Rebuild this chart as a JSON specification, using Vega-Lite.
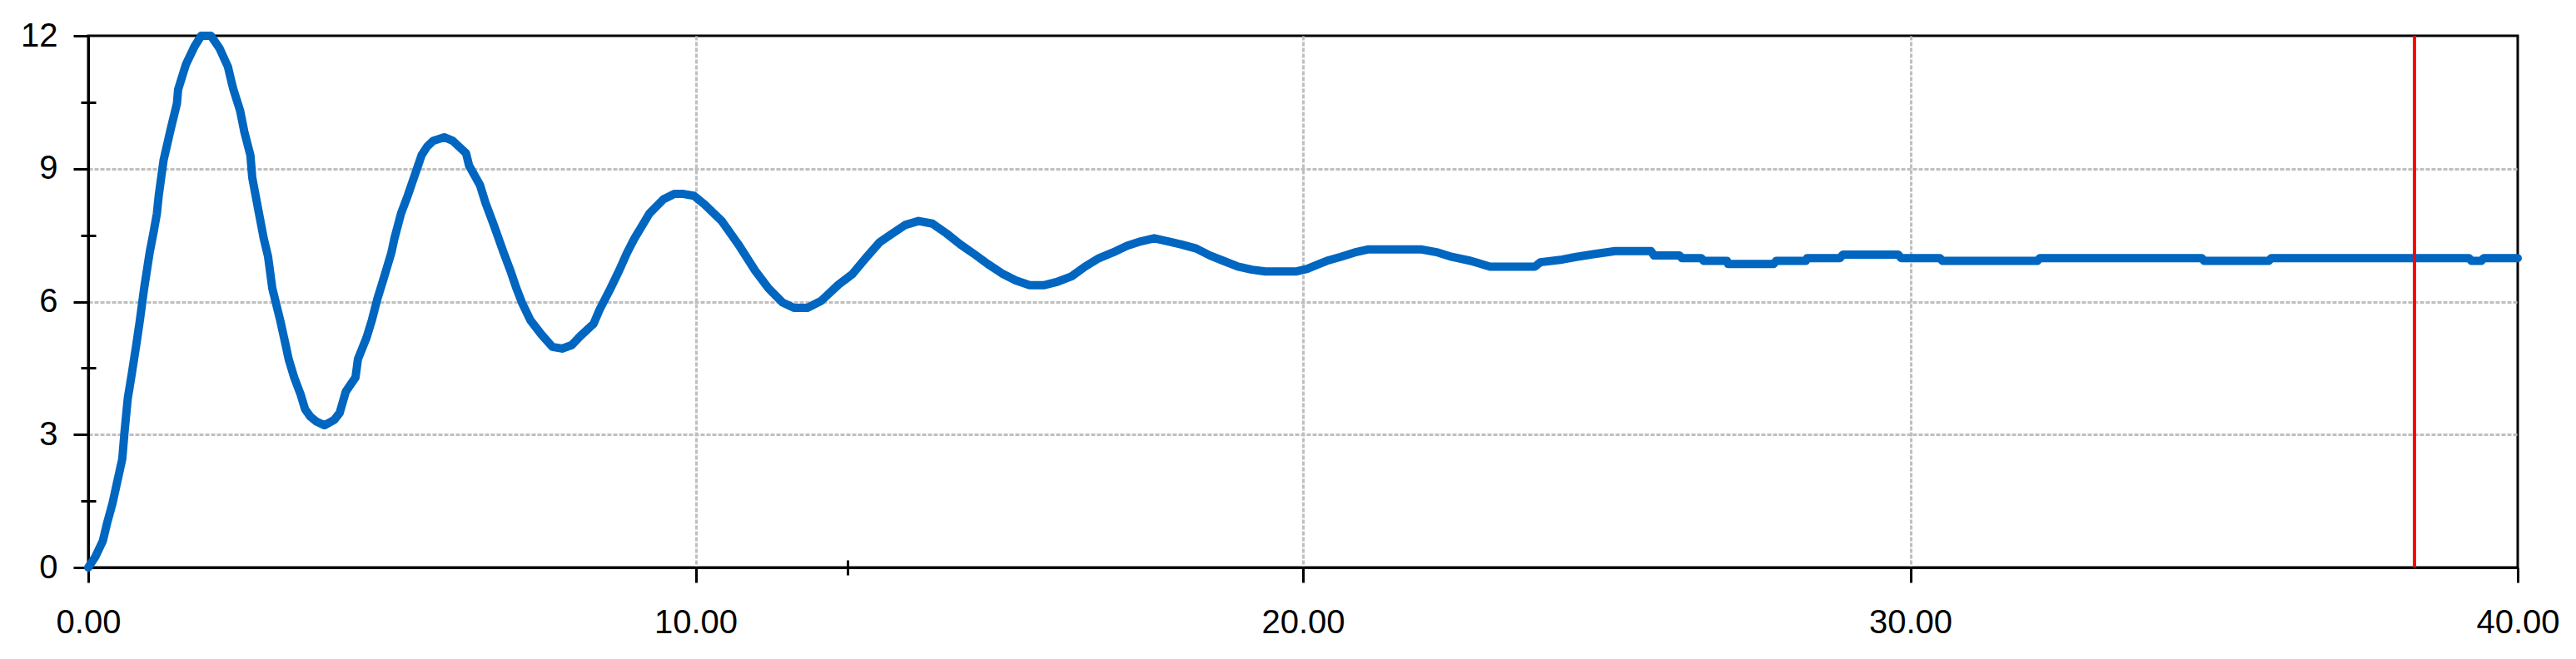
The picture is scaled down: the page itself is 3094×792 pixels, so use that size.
{
  "$schema": "https://vega.github.io/schema/vega-lite/v6.json",
  "width": 2918,
  "height": 639,
  "autosize": "none",
  "padding": {"left": 106, "top": 43, "right": 70, "bottom": 110},
  "background": "white",
  "config": {
    "view": {"stroke": "black", "strokeWidth": 3},
    "font": "Liberation Sans"
  },
  "datasets": {
    "series": [
      {"t": 0, "v": 0}, {"t": 0.12, "v": 0.25}, {"t": 0.24, "v": 0.6}, {"t": 0.31, "v": 1.0}, {"t": 0.4, "v": 1.45},
      {"t": 0.47, "v": 1.89}, {"t": 0.56, "v": 2.45}, {"t": 0.6, "v": 3.1}, {"t": 0.65, "v": 3.81}, {"t": 0.72, "v": 4.4},
      {"t": 0.79, "v": 5.02}, {"t": 0.85, "v": 5.58}, {"t": 0.92, "v": 6.3}, {"t": 1.01, "v": 7.1}, {"t": 1.08, "v": 7.6},
      {"t": 1.13, "v": 7.99}, {"t": 1.16, "v": 8.39}, {"t": 1.24, "v": 9.19}, {"t": 1.36, "v": 9.91}, {"t": 1.46, "v": 10.47},
      {"t": 1.48, "v": 10.79}, {"t": 1.61, "v": 11.36}, {"t": 1.75, "v": 11.76}, {"t": 1.86, "v": 12.0}, {"t": 2.02, "v": 12.0},
      {"t": 2.16, "v": 11.72}, {"t": 2.3, "v": 11.3}, {"t": 2.36, "v": 10.95}, {"t": 2.39, "v": 10.79}, {"t": 2.5, "v": 10.31},
      {"t": 2.57, "v": 9.83}, {"t": 2.67, "v": 9.3}, {"t": 2.7, "v": 8.8}, {"t": 2.8, "v": 8.07}, {"t": 2.89, "v": 7.42},
      {"t": 2.96, "v": 7.02}, {"t": 3.03, "v": 6.3}, {"t": 3.16, "v": 5.58}, {"t": 3.25, "v": 5.02}, {"t": 3.3, "v": 4.7},
      {"t": 3.39, "v": 4.29}, {"t": 3.5, "v": 3.89}, {"t": 3.57, "v": 3.57}, {"t": 3.66, "v": 3.4}, {"t": 3.76, "v": 3.29},
      {"t": 3.89, "v": 3.21}, {"t": 4.05, "v": 3.33}, {"t": 4.14, "v": 3.49}, {"t": 4.24, "v": 3.97}, {"t": 4.4, "v": 4.29},
      {"t": 4.44, "v": 4.7}, {"t": 4.58, "v": 5.18}, {"t": 4.67, "v": 5.58}, {"t": 4.76, "v": 6.06}, {"t": 4.85, "v": 6.46},
      {"t": 4.99, "v": 7.1}, {"t": 5.04, "v": 7.42}, {"t": 5.15, "v": 7.99}, {"t": 5.26, "v": 8.39}, {"t": 5.36, "v": 8.79},
      {"t": 5.49, "v": 9.31}, {"t": 5.58, "v": 9.5}, {"t": 5.68, "v": 9.63}, {"t": 5.86, "v": 9.71}, {"t": 6.0, "v": 9.63},
      {"t": 6.22, "v": 9.35}, {"t": 6.27, "v": 9.07}, {"t": 6.45, "v": 8.63}, {"t": 6.54, "v": 8.23}, {"t": 6.68, "v": 7.72},
      {"t": 6.84, "v": 7.1}, {"t": 6.95, "v": 6.7}, {"t": 7.05, "v": 6.3}, {"t": 7.14, "v": 5.98}, {"t": 7.28, "v": 5.58},
      {"t": 7.46, "v": 5.26}, {"t": 7.64, "v": 4.98}, {"t": 7.8, "v": 4.94}, {"t": 7.96, "v": 5.02}, {"t": 8.1, "v": 5.22},
      {"t": 8.32, "v": 5.5}, {"t": 8.42, "v": 5.82}, {"t": 8.6, "v": 6.3}, {"t": 8.74, "v": 6.7}, {"t": 8.87, "v": 7.1},
      {"t": 8.99, "v": 7.42}, {"t": 9.24, "v": 7.99}, {"t": 9.47, "v": 8.31}, {"t": 9.65, "v": 8.43}, {"t": 9.8, "v": 8.43},
      {"t": 9.97, "v": 8.39}, {"t": 10.15, "v": 8.19}, {"t": 10.43, "v": 7.82}, {"t": 10.7, "v": 7.3}, {"t": 10.98, "v": 6.7},
      {"t": 11.2, "v": 6.3}, {"t": 11.43, "v": 5.98}, {"t": 11.62, "v": 5.86}, {"t": 11.84, "v": 5.86}, {"t": 12.07, "v": 6.02},
      {"t": 12.35, "v": 6.38}, {"t": 12.58, "v": 6.62}, {"t": 12.8, "v": 6.98}, {"t": 13.03, "v": 7.34}, {"t": 13.21, "v": 7.51},
      {"t": 13.45, "v": 7.73}, {"t": 13.67, "v": 7.82}, {"t": 13.9, "v": 7.76}, {"t": 14.13, "v": 7.54}, {"t": 14.36, "v": 7.29},
      {"t": 14.59, "v": 7.07}, {"t": 14.81, "v": 6.85}, {"t": 15.04, "v": 6.64}, {"t": 15.27, "v": 6.48}, {"t": 15.5, "v": 6.37},
      {"t": 15.73, "v": 6.37}, {"t": 15.96, "v": 6.45}, {"t": 16.19, "v": 6.57}, {"t": 16.41, "v": 6.79}, {"t": 16.64, "v": 6.98},
      {"t": 16.87, "v": 7.11}, {"t": 17.1, "v": 7.26}, {"t": 17.33, "v": 7.36}, {"t": 17.55, "v": 7.43}, {"t": 17.78, "v": 7.36},
      {"t": 18.0, "v": 7.29}, {"t": 18.24, "v": 7.2}, {"t": 18.47, "v": 7.04}, {"t": 18.69, "v": 6.92}, {"t": 18.93, "v": 6.79},
      {"t": 19.16, "v": 6.72}, {"t": 19.38, "v": 6.68}, {"t": 19.88, "v": 6.68}, {"t": 20.07, "v": 6.74}, {"t": 20.16, "v": 6.79},
      {"t": 20.39, "v": 6.92}, {"t": 20.62, "v": 7.01}, {"t": 20.85, "v": 7.11}, {"t": 21.08, "v": 7.18}, {"t": 21.94, "v": 7.18},
      {"t": 22.22, "v": 7.11}, {"t": 22.45, "v": 7.01}, {"t": 22.76, "v": 6.92}, {"t": 23.08, "v": 6.79}, {"t": 23.82, "v": 6.79},
      {"t": 23.91, "v": 6.89}, {"t": 24.27, "v": 6.95}, {"t": 24.5, "v": 7.01}, {"t": 24.78, "v": 7.07}, {"t": 25.14, "v": 7.14},
      {"t": 25.73, "v": 7.14}, {"t": 25.78, "v": 7.04}, {"t": 26.2, "v": 7.04}, {"t": 26.24, "v": 6.98}, {"t": 26.56, "v": 6.98},
      {"t": 26.6, "v": 6.92}, {"t": 26.98, "v": 6.92}, {"t": 27.0, "v": 6.85}, {"t": 27.75, "v": 6.85}, {"t": 27.79, "v": 6.92},
      {"t": 28.28, "v": 6.92}, {"t": 28.3, "v": 6.98}, {"t": 28.84, "v": 6.98}, {"t": 28.89, "v": 7.06}, {"t": 29.8, "v": 7.06},
      {"t": 29.85, "v": 6.98}, {"t": 30.49, "v": 6.98}, {"t": 30.53, "v": 6.92}, {"t": 32.09, "v": 6.92}, {"t": 32.13, "v": 6.98},
      {"t": 34.8, "v": 6.98}, {"t": 34.84, "v": 6.92}, {"t": 35.9, "v": 6.92}, {"t": 35.94, "v": 6.98}, {"t": 39.2, "v": 6.98},
      {"t": 39.24, "v": 6.92}, {"t": 39.4, "v": 6.92}, {"t": 39.44, "v": 6.98}, {"t": 40, "v": 6.98}
    ],
    "cursor": [{"x": 38.3, "y0": 0, "y1": 12}]
  },
  "layer": [
    {
      "data": {"name": "series"},
      "mark": {"type": "line", "color": "#0066C0", "strokeWidth": 10, "strokeJoin": "round", "strokeCap": "round"},
      "encoding": {
        "x": {
          "field": "t", "type": "quantitative",
          "scale": {"domain": [0, 40], "nice": false, "zero": false},
          "axis": {
            "orient": "bottom", "title": null, "values": [0, 10, 20, 30, 40], "format": ".2f",
            "labelFont": "Liberation Sans", "labelFontSize": 40, "labelColor": "black", "labelPadding": 28,
            "labelFlush": false, "labelOverlap": false,
            "tickSize": 18, "tickWidth": 3, "tickColor": "black",
            "domainColor": "black", "domainWidth": 3,
            "grid": true, "gridColor": "#bfbfbf", "gridDash": [5, 2], "gridWidth": 3,
            "gridOpacity": {"condition": {"test": "datum.value === 0 || datum.value === 40", "value": 0}, "value": 1}
          }
        },
        "y": {
          "field": "v", "type": "quantitative",
          "scale": {"domain": [0, 12], "nice": false, "zero": false},
          "axis": {
            "orient": "left", "title": null, "values": [0, 3, 6, 9, 12], "format": "d",
            "labelFont": "Liberation Sans", "labelFontSize": 40, "labelColor": "black", "labelPadding": 19,
            "labelFlush": false, "labelOverlap": false,
            "tickSize": 18, "tickWidth": 3, "tickColor": "black",
            "domainColor": "black", "domainWidth": 3,
            "grid": true, "gridColor": "#bfbfbf", "gridDash": [5, 2], "gridWidth": 3,
            "gridOpacity": {"condition": {"test": "datum.value === 0 || datum.value === 12", "value": 0}, "value": 1}
          }
        }
      }
    },
    {
      "data": {"name": "cursor"},
      "mark": {"type": "rule", "color": "#ff0000", "strokeWidth": 4},
      "encoding": {
        "x": {
          "field": "x", "type": "quantitative",
          "scale": {"domain": [0, 40], "nice": false, "zero": false},
          "axis": {
            "orient": "bottom", "title": null, "values": [12.5], "labels": false, "domain": false, "grid": false,
            "offset": -9, "tickSize": 18, "tickWidth": 3, "tickColor": "black"
          }
        },
        "y": {
          "field": "y0", "type": "quantitative",
          "scale": {"domain": [0, 12], "nice": false, "zero": false},
          "axis": {
            "orient": "left", "title": null, "values": [1.5, 4.5, 7.5, 10.5], "labels": false, "domain": false, "grid": false,
            "offset": -9, "tickSize": 18, "tickWidth": 3, "tickColor": "black"
          }
        },
        "y2": {"field": "y1"}
      }
    }
  ],
  "resolve": {"axis": {"x": "independent", "y": "independent"}}
}
